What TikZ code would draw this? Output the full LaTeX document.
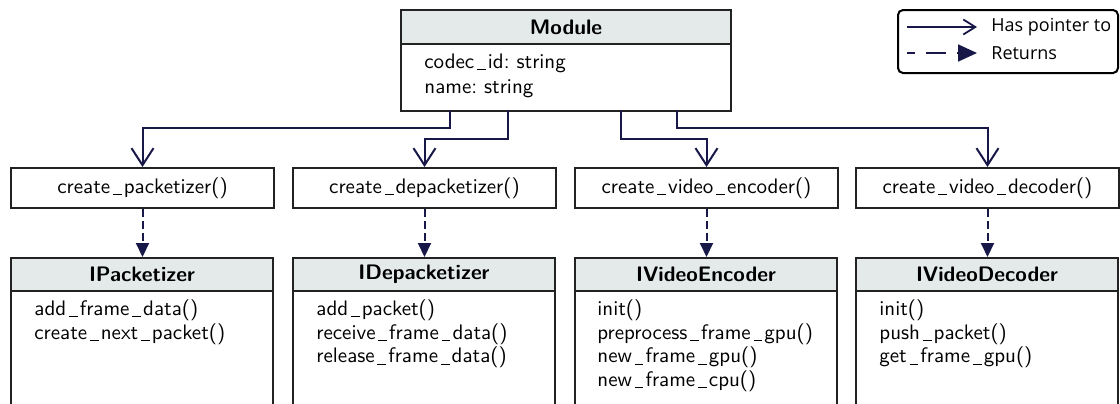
\documentclass[tikz,border=0pt]{standalone}
\usepackage{fontspec}
\newfontfamily\legendfont{Open Sans}
\usetikzlibrary{arrows.meta,calc}
\definecolor{navy}{RGB}{24,24,72}
\definecolor{hdrfill}{RGB}{228,234,234}
\definecolor{edge}{RGB}{34,34,34}
\newcommand\usc{\kern0.13em\rule[-0.9pt]{0.42em}{0.5pt}\kern0.1em}
\frenchspacing
\begin{document}
\begin{tikzpicture}[x=0.5pt,y=-0.5pt,
  mainfont/.style={font=\sffamily\fontsize{10.5}{11.85}\selectfont},
  hdrbox/.style={draw=edge, line width=1pt, fill=hdrfill, anchor=north west, inner sep=0pt,
    font=\sffamily\bfseries\fontsize{10.5}{12}\selectfont},
  bodybox/.style={draw=edge, line width=1pt, fill=white, anchor=north west, inner sep=0pt},
  fnbox/.style={draw=edge, line width=1pt, fill=white, anchor=north west, inner sep=0pt,
    minimum width=131.5pt, minimum height=20pt, mainfont},
  member/.style={anchor=base west, inner sep=0pt, mainfont},
  ptr/.style={draw=navy, line width=1pt, -{Straight Barb[length=8.5pt,width=11pt,line width=1pt]}},
  ret/.style={draw=navy, line width=1pt, dash pattern=on 4pt off 2pt, -{Triangle[length=7pt,width=6.5pt]}},
  legptr/.style={draw=navy, line width=0.9pt, -{Straight Barb[length=6pt,width=7.5pt,line width=0.9pt]}},
  legret/.style={draw=navy, line width=0.9pt, dash pattern=on 10pt off 5.5pt, dash phase=6pt,
    -{Triangle[length=9.5pt,width=8.5pt]}},
  legtext/.style={anchor=west, inner sep=0pt, font=\legendfont\fontsize{9}{10}\selectfont},
]
\useasboundingbox (0,0) rectangle (1120,403);
\clip (0,0) rectangle (1120,403);

% Module
\node[hdrbox, minimum width=165pt, minimum height=17pt] (modh) at (400,9) {Module};
\node[bodybox, minimum width=165pt, minimum height=33.5pt] (modb) at (400,43) {};
\node[member] (modt1) at (424,68) {codec\usc id: string};
\node[member] (modt2) at (424,93) {name: string};

% factory functions
\node[fnbox] (cp) at (10,167) {create\usc packetizer()};
\node[fnbox] (cd) at (292,167) {create\usc depacketizer()};
\node[fnbox] (ce) at (574,167) {create\usc video\usc encoder()};
\node[fnbox] (cv) at (855,167) {create\usc video\usc decoder()};

% interfaces
\node[hdrbox, minimum width=131pt, minimum height=16.5pt] (iph) at (10,257) {IPacketizer};
\node[bodybox, minimum width=131pt, minimum height=70pt] (ipb) at (10,290) {};
\node[hdrbox, minimum width=131pt, minimum height=16.5pt] (idh) at (292,257) {IDepacketizer};
\node[bodybox, minimum width=131pt, minimum height=70pt] (idb) at (292,290) {};
\node[hdrbox, minimum width=131pt, minimum height=16.5pt] (ieh) at (574,257) {IVideoEncoder};
\node[bodybox, minimum width=131pt, minimum height=70pt] (ieb) at (574,290) {};
\node[hdrbox, minimum width=131pt, minimum height=16.5pt] (ivh) at (855,257) {IVideoDecoder};
\node[bodybox, minimum width=131pt, minimum height=70pt] (ivb) at (855,290) {};

% members
\node[member] (p1) at (34,315.5) {add\usc frame\usc data()};
\node[member] (p2) at (34,339.2) {create\usc next\usc packet()};
\node[member] (d1) at (316,315.5) {add\usc packet()};
\node[member] (d2) at (316,339.2) {receive\usc frame\usc data()};
\node[member] (d3) at (316,362.9) {release\usc frame\usc data()};
\node[member] (e1) at (597,315.5) {init()};
\node[member] (e2) at (597,339.2) {preprocess\usc frame\usc gpu()};
\node[member] (e3) at (597,362.9) {new\usc frame\usc gpu()};
\node[member] (e4) at (597,386.6) {new\usc frame\usc cpu()};
\node[member] (v1) at (879,315.5) {init()};
\node[member] (v2) at (879,339.2) {push\usc packet()};
\node[member] (v3) at (879,362.9) {get\usc frame\usc gpu()};

% pointers from Module
\coordinate (m1) at (450,110);
\coordinate (m2) at (508,110);
\coordinate (m3) at (621,110);
\coordinate (m4) at (677,110);
\draw[ptr] (m1) -- (m1 |- 0,128) -| (cp.north);
\draw[ptr] (m2) -- (m2 |- 0,139) -| (cd.north);
\draw[ptr] (m3) -- (m3 |- 0,139) -| (ce.north);
\draw[ptr] (m4) -- (m4 |- 0,128) -| (cv.north);

% returns
\draw[ret] (cp.south) -- (cp.south |- iph.north);
\draw[ret] (cd.south) -- (cd.south |- idh.north);
\draw[ret] (ce.south) -- (ce.south |- ieh.north);
\draw[ret] (cv.south) -- (cv.south |- ivh.north);

% legend
\node[draw=black, line width=1pt, rounded corners=2.5pt, anchor=north west, inner sep=0pt,
  minimum width=110pt, minimum height=31.5pt] (leg) at (897,9) {};
\coordinate (la1) at (907,27);
\coordinate (lb1) at (977,27);
\coordinate (la2) at (907,53);
\coordinate (lb2) at (977,53);
\draw[legptr] (la1) -- (lb1);
\draw[legret] (la2) -- (lb2);
\node[legtext] (lt1) at (991,27) {Has pointer to};
\node[legtext] (lt2) at (991,53) {Returns};
\end{tikzpicture}
\end{document}
